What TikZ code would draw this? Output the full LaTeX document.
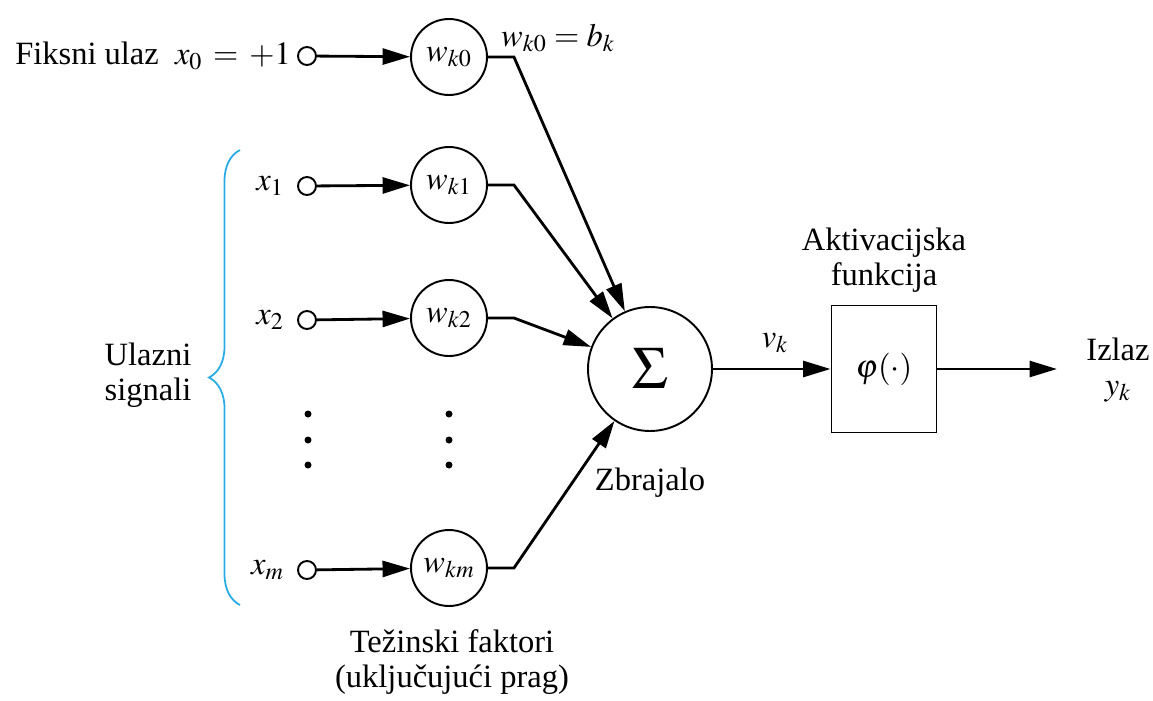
\documentclass[tikz,border=0pt]{standalone}
\usepackage{mathptmx}
\usepackage[no-math]{fontspec}
\newfontfamily\seriffont{Liberation Serif}
\usetikzlibrary{arrows.meta,positioning,decorations.pathreplacing}
\definecolor{bracecol}{RGB}{40,170,230}

\begin{document}
\begin{tikzpicture}[
    x=0.02cm, y=-0.02cm,
    font=\seriffont\fontsize{18.5}{20}\selectfont,
    port/.style={draw,circle,line width=1.1pt,minimum size=0.36cm,inner sep=0pt},
    weight/.style={draw,circle,line width=1.1pt,minimum size=1.52cm,inner sep=0pt},
    arr/.style={-{Triangle[length=0.55cm,width=0.32cm]},line width=1.6pt}
]
\useasboundingbox (0,0) rectangle (1153,700);
% inputs and weights
\node[port] (in0) at (307,56) {};
\node[port] (in1) at (307,186) {};
\node[port] (in2) at (307,320) {};
\node[port] (inm) at (307,570) {};
\node[weight] (w0) at (449,57) {$w_{k0}$};
\node[weight] (w1) at (449,185) {$w_{k1}$};
\node[weight] (w2) at (449,318) {$w_{k2}$};
\node[weight] (wm) at (449,568) {$w_{km}$};
\node[anchor=east] (lx0) at (in0.west) {Fiksni ulaz\ \ $x_0\,=\,+1$};
\node[anchor=east] (lx1) at ([xshift=-4]in1.west) {$x_1$};
\node[anchor=east] (lx2) at ([xshift=-4]in2.west) {$x_2$};
\node[anchor=east] (lxm) at ([xshift=-4]inm.west) {$x_m$};
\node[anchor=west] (bias) at (495,38) {$w_{k0}=b_k$};
% summing junction and activation
\node[draw,circle,line width=1.1pt,minimum size=2.48cm,inner sep=0pt,
      font=\fontsize{34}{36}\selectfont] (sum) at (650,369) {$\Sigma$};
\node[draw,line width=1.1pt,minimum width=2.1cm,minimum height=2.54cm,inner sep=0pt]
      (act) at (884,369) {$\varphi(\cdot)$};
\coordinate (out) at (1057,369);
\node[below=0.6cm of sum] (zbr) {Zbrajalo};
\node[above=0.12cm of act,align=center] (actlbl) {Aktivacijska\\funkcija};
\node[align=center] (izlaz) at (1118,370) {Izlaz\\$y_k$};
\node (vk) at (775,343) {$v_k$};
\node[align=center] (tez) at (452,662) {Težinski faktori\\(uključujući prag)};
\node[align=center] (uls) at (148,375) {Ulazni\\signali};
% dots
\foreach \yy in {414,440,465} {
  \fill (308,\yy) circle (3.5);
  \fill (449,\yy) circle (3.5);
}
% brace
\coordinate (brb) at (240,605);
\coordinate (brt) at (240,150);
\draw[bracecol,line width=1pt,decorate,decoration={brace,amplitude=0.62cm}] (brb) -- (brt);
% connectors
\foreach \i in {0,1,2,m} {
  \draw[arr] (in\i) -- (w\i);
  \draw[arr] (w\i.east) -- ++(26,0) -- (sum);
}
\draw[arr] (sum) -- (act);
\draw[arr] (act) -- (out);
\end{tikzpicture}
\end{document}
